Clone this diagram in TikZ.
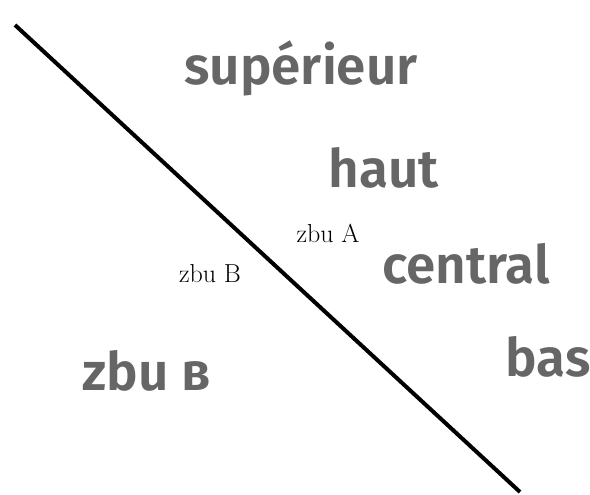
\documentclass[tikz,border=0pt]{standalone}
\usepackage{fontspec}
\usepackage{tikz}
\newfontfamily\firafont{Fira Sans SemiBold}
\definecolor{wordgray}{HTML}{666666}

\tikzset{
  bigword/.style={font=\firafont\fontsize{53}{60}\selectfont, text=wordgray, anchor=base, inner sep=0pt},
  zbulabel/.style={font=\fontsize{26}{30}\selectfont, anchor=base, inner sep=0pt}
}

\begin{document}
\begin{tikzpicture}[x=1pt, y=-1pt]
    \useasboundingbox (0,0) rectangle (590,495);
    % dividing line
    \coordinate (top) at (15,25);
    \coordinate (bottom) at (520,492);
    \draw[line width=4pt] (top) -- (bottom);
    % words on the right of the line
    \node[bigword] (sup) at (301,85) {supérieur};
    \node[bigword] (haut) at (384,187) {haut};
    \node[bigword] (central) at (466,283) {central};
    \node[bigword] (bas) at (548,376) {bas};
    % word on the left
    \node[bigword] (zbuv) at (147,390) {zbu в};
    % small labels near the line
    \node[zbulabel] (zbua) at (328,242) {zbu A};
    \node[zbulabel] (zbub) at (210,282) {zbu B};
\end{tikzpicture}
\end{document}
